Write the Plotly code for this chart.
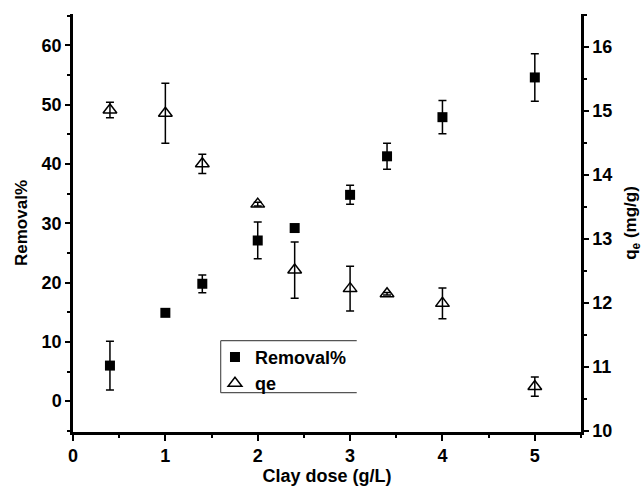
import plotly.graph_objects as go

dose = [0.4, 1.0, 1.4, 2.0, 2.4, 3.0, 3.4, 4.0, 5.0]
removal = [6.0, 14.9, 19.8, 27.1, 29.2, 34.8, 41.3, 47.9, 54.6]
removal_err = [4.1, 0.4, 1.5, 3.1, 0.0, 1.6, 2.2, 2.8, 4.0]
qe = [15.01, 14.96, 14.17, 13.54, 12.51, 12.22, 12.14, 11.99, 10.69]
qe_err = [0.12, 0.47, 0.15, 0.03, 0.44, 0.35, 0.02, 0.24, 0.15]

x_ticks = [0, 1, 2, 3, 4, 5]
left_ticks = [0, 10, 20, 30, 40, 50, 60]
right_ticks = [10, 11, 12, 13, 14, 15, 16]

FONT = "Liberation Sans"

fig = go.Figure()
fig.add_trace(go.Scatter(
    x=dose, y=removal, mode="markers", name="Removal%",
    marker=dict(symbol="square", size=10, color="black"),
    error_y=dict(type="data", array=removal_err, color="black", thickness=1.5, width=4),
    yaxis="y"))
fig.add_trace(go.Scatter(
    x=dose, y=qe, mode="markers", name="qe",
    marker=dict(symbol="triangle-up-open", size=12, color="black", line=dict(width=1.5)),
    error_y=dict(type="data", array=qe_err, color="black", thickness=1.5, width=4),
    yaxis="y2"))

tickfont = dict(family=FONT, size=18, color="black", weight="bold")
titlefont = dict(family=FONT, size=17, color="black", weight="bold")

# legend frame (open on the right side as in the reference)
lx0, lx1, ly0, ly1 = 0.2907, 0.5585, 0.094, 0.2184
for (a, b, c, d) in [(lx0, ly1, lx1, ly1), (lx0, ly0, lx1, ly0), (lx0, ly0, lx0, ly1)]:
    fig.add_shape(type="line", xref="paper", yref="paper", x0=a, y0=b, x1=c, y1=d,
                  line=dict(color="#555", width=1.2))

fig.update_layout(
    width=643, height=486,
    margin=dict(l=73, r=62, t=14, b=54),
    paper_bgcolor="white", plot_bgcolor="white",
    font=dict(family=FONT, color="black"),
    showlegend=True,
    legend=dict(x=0.2795, y=0.2231, xanchor="left", yanchor="top",
                borderwidth=0, bgcolor="rgba(0,0,0,0)",
                font=dict(family=FONT, size=18, color="black", weight="bold"),
                tracegroupgap=0, itemwidth=30),
    xaxis=dict(range=[0, 5.5], tickvals=x_ticks, automargin=False,
               ticks="outside", ticklen=6, tickwidth=2, tickcolor="black",
               minor=dict(dtick=0.5, tick0=0, ticks="outside", ticklen=3, tickwidth=2, tickcolor="black"),
               showline=True, linewidth=2.5, linecolor="black", showgrid=False, zeroline=False,
               tickfont=tickfont,
               title=dict(text="Clay dose (g/L)", font=dict(family=FONT, size=18, color="black", weight="bold"), standoff=6)),
    xaxis2=dict(range=[0, 5.5], overlaying="x", side="top", anchor="y", automargin=False,
                tickvals=x_ticks, showticklabels=False,
                ticks="inside", ticklen=5, tickwidth=1.5, tickcolor="#333",
                minor=dict(dtick=0.5, tick0=0, ticks="inside", ticklen=3, tickwidth=1.5, tickcolor="#333"),
                showline=True, linewidth=1.5, linecolor="#333", showgrid=False, zeroline=False),
    yaxis=dict(range=[-5.2, 65.3], tickvals=left_ticks, automargin=False,
               ticks="outside", ticklen=5, tickwidth=2, tickcolor="black",
               minor=dict(dtick=5, tick0=0, ticks="outside", ticklen=3, tickwidth=2, tickcolor="black"),
               showline=True, linewidth=2.5, linecolor="black", showgrid=False, zeroline=False,
               tickfont=tickfont,
               title=dict(text="Removal%", font=titlefont, standoff=10)),
    yaxis2=dict(range=[9.98, 16.51], overlaying="y", side="right", anchor="x", automargin=False,
                tickvals=right_ticks,
                ticks="outside", ticklen=5, tickwidth=2, tickcolor="black",
                minor=dict(dtick=0.5, tick0=10, ticks="outside", ticklen=3, tickwidth=2, tickcolor="black"),
                showline=True, linewidth=2.5, linecolor="black", showgrid=False, zeroline=False,
                tickfont=tickfont,
                title=dict(text="q<sub>e</sub> (mg/g)", font=titlefont, standoff=14)),
)

fig.write_html("out.html")
